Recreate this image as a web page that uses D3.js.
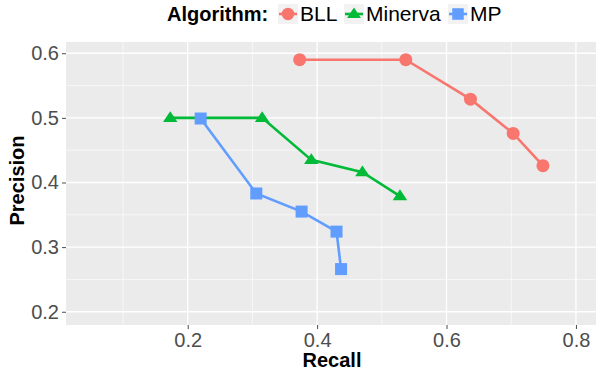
<!DOCTYPE html>
<html>
<head>
<meta charset="utf-8">
<script src="https://cdn.jsdelivr.net/npm/d3@7"></script>
<style>
  body { margin: 0; background: #fff; }
  svg { display: block; font-family: "Liberation Sans", Arial, sans-serif; }
</style>
</head>
<body>
<div id="chart"></div>
<script>
var algorithms = ["BLL", "Minerva", "MP"];
var colors = ["#F8766D", "#00BA38", "#619CFF"];
var shapes = ["circle", "triangle", "square"];

var bllRecall = [0.373, 0.537, 0.637, 0.703, 0.749];
var bllPrecision = [0.590, 0.590, 0.529, 0.476, 0.426];
var minervaRecall = [0.173, 0.315, 0.391, 0.470, 0.528];
var minervaPrecision = [0.500, 0.500, 0.435, 0.416, 0.379];
var mpRecall = [0.220, 0.306, 0.376, 0.430, 0.437];
var mpPrecision = [0.499, 0.383, 0.355, 0.324, 0.266];

var xTicks = [0.2, 0.4, 0.6, 0.8];
var yTicks = [0.2, 0.3, 0.4, 0.5, 0.6];
var xMinor = [0.1, 0.3, 0.5, 0.7];
var yMinor = [0.25, 0.35, 0.45, 0.55];

var series = [
  { name: "BLL", x: bllRecall, y: bllPrecision },
  { name: "Minerva", x: minervaRecall, y: minervaPrecision },
  { name: "MP", x: mpRecall, y: mpPrecision }
];

var W = 596, H = 372;
var margin = { top: 42, right: 0, bottom: 47, left: 66 };
var width = W - margin.left - margin.right,
  height = H - margin.top - margin.bottom;

var svg = d3.select("#chart").append("svg")
  .attr("width", W).attr("height", H);

var g = svg.append("g")
  .attr("transform", "translate(" + margin.left + "," + margin.top + ")");

var x = d3.scaleLinear().domain([0.0119, 0.831]).range([0, width]);
var y = d3.scaleLinear().domain([0.1795, 0.6174]).range([height, 0]);

var color = d3.scaleOrdinal().domain(algorithms).range(colors);
var shape = d3.scaleOrdinal().domain(algorithms).range(shapes);

g.append("rect").attr("width", width).attr("height", height).attr("fill", "#EBEBEB");

// grid
g.selectAll(".xminor").data(xMinor).enter().append("line")
  .attr("x1", d => x(d)).attr("x2", d => x(d)).attr("y1", 0).attr("y2", height)
  .attr("stroke", "#fff").attr("stroke-width", 0.6);
g.selectAll(".yminor").data(yMinor).enter().append("line")
  .attr("y1", d => y(d)).attr("y2", d => y(d)).attr("x1", 0).attr("x2", width)
  .attr("stroke", "#fff").attr("stroke-width", 0.6);
g.selectAll(".xmajor").data(xTicks).enter().append("line")
  .attr("x1", d => x(d)).attr("x2", d => x(d)).attr("y1", 0).attr("y2", height)
  .attr("stroke", "#fff").attr("stroke-width", 1.3);
g.selectAll(".ymajor").data(yTicks).enter().append("line")
  .attr("y1", d => y(d)).attr("y2", d => y(d)).attr("x1", 0).attr("x2", width)
  .attr("stroke", "#fff").attr("stroke-width", 1.3);

// axes
var xAxis = g.append("g").attr("transform", "translate(0," + height + ")")
  .call(d3.axisBottom(x).tickValues(xTicks).tickSize(4).tickPadding(4).tickFormat(d3.format(".1f")));
var yAxis = g.append("g")
  .call(d3.axisLeft(y).tickValues(yTicks).tickSize(4).tickPadding(3).tickFormat(d3.format(".1f")));
[xAxis, yAxis].forEach(function (a) {
  a.select(".domain").remove();
  a.selectAll(".tick line").attr("stroke", "#4d4d4d");
  a.selectAll(".tick text").attr("fill", "#4d4d4d")
    .style("font-size", "20px").style("font-family", "Liberation Sans, Arial, sans-serif");
});

svg.append("text")
  .attr("x", 332).attr("y", 367)
  .attr("text-anchor", "middle").style("font-size", "20px").style("font-weight", "bold")
  .text("Recall");
svg.append("text")
  .attr("transform", "translate(24," + (margin.top + height / 2 - 3) + ") rotate(-90)")
  .attr("text-anchor", "middle").style("font-size", "20px").style("font-weight", "bold")
  .text("Precision");

function drawShape(sel, s, c, size) {
  if (s === "circle") {
    sel.append("circle").attr("r", size * 0.52).attr("fill", c);
  } else if (s === "square") {
    sel.append("rect").attr("x", -size * 0.48).attr("y", -size * 0.48)
      .attr("width", size * 0.96).attr("height", size * 0.96).attr("fill", c);
  } else {
    var h = size * 0.87;
    sel.append("path")
      .attr("d", "M0," + (-h * 0.62) + "L" + (size * 0.58) + "," + (h * 0.38) + "L" + (-size * 0.58) + "," + (h * 0.38) + "Z")
      .attr("fill", c);
  }
}

var line = d3.line().x(d => x(d[0])).y(d => y(d[1]));

series.forEach(function (s) {
  var pts = s.x.map((v, i) => [v, s.y[i]]);
  g.append("path").datum(pts).attr("d", line)
    .attr("fill", "none").attr("stroke", color(s.name)).attr("stroke-width", 2.6);
  pts.forEach(function (p) {
    var pg = g.append("g").attr("transform", "translate(" + x(p[0]) + "," + y(p[1]) + ")");
    drawShape(pg, shape(s.name), color(s.name), 12.5);
  });
});

// legend
var legend = svg.append("g");
legend.append("text").attr("x", 167).attr("y", 21)
  .style("font-size", "20px").style("font-weight", "bold").text("Algorithm:");
var keyX = [278, 344, 448];
algorithms.forEach(function (a, i) {
  var k = legend.append("g").attr("transform", "translate(" + keyX[i] + ",4)");
  k.append("rect").attr("width", 20).attr("height", 20).attr("fill", "#F2F2F2");
  k.append("line").attr("x1", 1).attr("x2", 19).attr("y1", 10).attr("y2", 10)
    .attr("stroke", color(a)).attr("stroke-width", 2.6);
  var kg = k.append("g").attr("transform", "translate(10,10)");
  drawShape(kg, shape(a), color(a), 12);
  legend.append("text").attr("x", keyX[i] + 22).attr("y", 21)
    .style("font-size", "21px").text(a);
});
</script>
</body>
</html>
